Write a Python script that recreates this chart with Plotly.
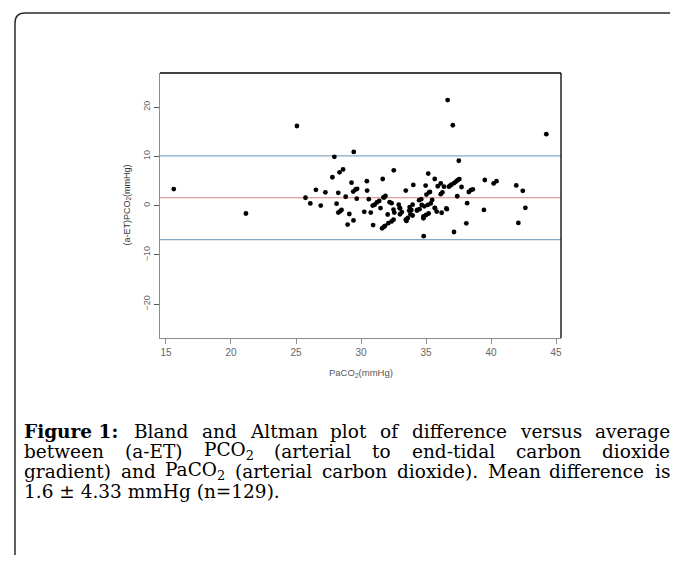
import re
import plotly.graph_objects as go

# ---------------- data ----------------
paco2 = [15.6, 21.15, 25.07, 25.73, 26.1, 26.53, 26.9, 27.26, 27.8, 27.95,
         28.12, 28.25, 28.35, 28.62, 28.25, 28.39, 28.5, 28.82, 28.97, 29.1,
         29.27, 29.44, 29.42, 29.4, 29.58, 29.67, 29.7, 30.25, 30.45, 30.47,
         30.6, 30.75, 30.9, 31.05, 30.93, 31.22, 31.5, 31.67, 31.72, 31.62,
         31.76, 31.88, 32.05, 32.2, 32.35, 32.35, 32.5, 32.52, 32.5, 32.9,
         32.97, 33.0, 33.14, 33.44, 33.44, 33.6, 33.8, 33.74, 33.87, 33.97,
         34.02, 33.97, 34.33, 34.47, 34.5, 34.63, 34.82, 34.8, 34.87, 34.97,
         35.03, 35.0, 35.13, 35.17, 35.2, 35.23, 35.36, 35.47, 35.67, 35.67,
         35.9, 36.13, 36.13, 36.26, 36.2, 36.56, 36.66, 36.76, 36.86, 37.06,
         37.15, 37.16, 37.3, 37.43, 37.52, 37.4, 37.56, 37.73, 38.1, 38.16,
         38.29, 38.45, 39.45, 39.52, 40.2, 40.42, 41.94, 42.1, 42.44, 42.64,
         44.25, 31.8, 33.0, 32.56, 34.67, 34.8, 33.5, 32.1, 31.85, 35.69,
         35.82, 36.6, 36.95, 35.3, 36.38, 34.3, 33.7, 31.4, 38.6]

diff_aet = [3.35, -1.6, 16.15, 1.6, 0.44, 3.2, 0.0, 2.7, 5.75, 9.9,
            0.4, 2.6, 6.76, 7.35, -1.4, -1.15, -0.87, 1.8, -3.85, -1.7,
            4.65, 10.9, -3.0, 2.85, 3.27, 1.4, 3.4, -1.25, 4.95, 3.05,
            1.3, -1.4, 0.0, 0.2, -3.95, 0.65, -0.5, 5.4, 1.67, -4.6,
            -4.3, 1.96, -1.8, 0.7, 0.5, -3.2, -2.84, 7.15, -0.8, 0.2,
            -0.5, -1.75, -1.3, 3.05, -2.84, -2.5, -1.75, -0.3, -0.87, 0.2,
            4.2, -2.0, -0.87, 1.1, -0.73, 1.3, -6.2, -2.2, -0.15, 4.07,
            2.25, -1.9, 0.15, 6.5, -1.6, 2.7, 0.44, 1.16, 5.4, -0.44,
            3.93, 4.5, 2.33, 2.7, -1.45, -0.58, 21.4, 3.85, 4.07, 16.3,
            -5.35, 4.58, 4.87, 5.16, 9.1, 1.9, 5.38, 3.78, -3.6, 0.5,
            2.76, 3.13, -0.87, 5.2, 4.5, 4.95, 4.1, -3.5, 3.0, -0.45,
            14.5, 1.7, -0.53, -1.42, 0.14, -2.56, -3.1, -3.57, -4.1, -0.53,
            -1.2, -0.73, 4.25, 2.78, 3.85, -1.0, -1.0, 0.95, 3.3]

assert len(paco2) == len(diff_aet) == 129

mean_diff = 1.6
sd_diff = 4.33
upper_loa = mean_diff + 1.96 * sd_diff
lower_loa = mean_diff - 1.96 * sd_diff

x_ticks = [15, 20, 25, 30, 35, 40, 45]
y_ticks = [-20, -10, 0, 10, 20]

x_title = "PaCO<sub>2</sub>(mmHg)"
y_title = "(a-ET)PCO<sub>2</sub>(mmHg)"

caption_lines = [
    ["<b>Figure 1:</b>", "Bland", "and", "Altman", "plot", "of", "difference", "versus", "average"],
    ["between", "(a-ET)", "PCO<sub>2</sub>", "(arterial", "to", "end-tidal", "carbon", "dioxide"],
    ["gradient)", "and", "PaCO<sub>2</sub>", "(arterial", "carbon", "dioxide).", "Mean", "difference", "is"],
    ["1.6 ± 4.33 mmHg (n=129)."],
]
caption_justified = [True, True, True, False]

# ---------------- layout geometry (page pixels) ----------------
W, H = 678, 563
OFF = 8  # default body margin of the html page
PL, PR, PT, PB = 160, 561, 73, 338
FIG_W, FIG_H = W - 2 * OFF, H - 2 * OFF

def fx(px):
    return (px - PL) / (PR - PL)

def fy(py):
    return (PB - py) / (PB - PT)

# approximate advance widths of DejaVu Serif (em units), used to justify the caption
_CW = dict(a=.596, b=.640, c=.560, d=.640, e=.592, f=.370, g=.640, h=.644, i=.320,
           k=.606, l=.320, m=.948, n=.644, o=.602, p=.640, r=.478, s=.513, t=.402,
           u=.644, v=.565, w=.856, x=.564, y=.565, A=.722, B=.735, C=.720, E=.730,
           F=.694, M=.995, O=.820, P=.675, T=.682)
_CW.update({"(": .390, ")": .390, "-": .338, ".": .318, ":": .337, " ": .318})

def word_width(word, size):
    bold = "<b>" in word
    subs = "".join(re.findall(r"<sub>(.*?)</sub>", word))
    plain = re.sub(r"<[^>]+>", "", re.sub(r"<sub>(.*?)</sub>", "", word))
    total = sum(_CW.get(ch, .636) for ch in plain)
    total += sum(0.7 * _CW.get(ch, .636) for ch in subs)
    if bold:
        total *= 1.12
    return total * size

CAP_LEFT, CAP_RIGHT = 22, 668
caption_baselines = [437, 457, 477, 497]
CAP_SIZE = 18.5

fig = go.Figure()
fig.add_trace(go.Scatter(
    x=paco2, y=diff_aet, mode="markers",
    marker=dict(color="black", size=4.8, line=dict(width=0)),
    hoverinfo="skip", showlegend=False,
))

shapes = []
shapes.append(dict(type="line", xref="paper", x0=0, x1=1, yref="y",
                   y0=upper_loa, y1=upper_loa, line=dict(color="#86a8c4", width=1.2), layer="below"))
shapes.append(dict(type="line", xref="paper", x0=0, x1=1, yref="y",
                   y0=lower_loa, y1=lower_loa, line=dict(color="#86a8c4", width=1.2), layer="below"))
shapes.append(dict(type="line", xref="paper", x0=0, x1=1, yref="y",
                   y0=mean_diff, y1=mean_diff, line=dict(color="#d98282", width=1.2), layer="below"))
shapes.append(dict(type="line", xref="paper", yref="paper", x0=0, x1=1, y0=1, y1=1,
                   line=dict(color="black", width=1.3)))
shapes.append(dict(type="line", xref="paper", yref="paper", x0=1, x1=1, y0=0, y1=1,
                   line=dict(color="black", width=1.3)))
fl, ft, rad = 15, 13, 10
path = (f"M {fx(fl)},{fy(H + 20)} L {fx(fl)},{fy(ft + rad)} "
        f"Q {fx(fl)},{fy(ft)} {fx(fl + rad)},{fy(ft)} L {fx(W + 20)},{fy(ft)}")
shapes.append(dict(type="path", xref="paper", yref="paper", path=path,
                   line=dict(color="#2a2a2a", width=1.5)))

annotations = []
annotations.append(dict(text=x_title, xref="paper", yref="paper", x=0.5, y=fy(373),
                        xanchor="center", yanchor="middle", showarrow=False,
                        font=dict(family="Liberation Sans, Arial", size=9.5, color="#555555")))
annotations.append(dict(text=y_title, xref="paper", yref="paper", x=fx(127), y=fy(205.5),
                        xanchor="center", yanchor="middle", showarrow=False, textangle=-90,
                        font=dict(family="Liberation Sans, Arial", size=9, color="#333333")))

for words, just, base in zip(caption_lines, caption_justified, caption_baselines):
    widths = [word_width(w, CAP_SIZE) for w in words]
    if just and len(words) > 1:
        gap = (CAP_RIGHT - CAP_LEFT - sum(widths)) / (len(words) - 1)
    else:
        gap = 0
    cur = CAP_LEFT
    for w, wd in zip(words, widths):
        annotations.append(dict(text=w, xref="paper", yref="paper", x=fx(cur), y=fy(base - 6),
                                xanchor="left", yanchor="middle", showarrow=False,
                                font=dict(family="DejaVu Serif", size=CAP_SIZE, color="black")))
        cur += wd + gap

axis_font = dict(family="Liberation Sans, Arial", size=10, color="#666666")
left_m = PL - OFF
top_m = PT - OFF
fig.update_layout(
    width=FIG_W, height=FIG_H,
    margin=dict(l=left_m, r=FIG_W - left_m - (PR - PL), t=top_m,
                b=FIG_H - top_m - (PB - PT), pad=0),
    paper_bgcolor="white", plot_bgcolor="white",
    showlegend=False, hovermode=False,
    shapes=shapes, annotations=annotations,
    xaxis=dict(range=[14.54, 45.38], tickvals=x_ticks, ticks="outside", ticklen=5,
               tickcolor="#8c8c8c", tickwidth=1, showline=True, linecolor="#8c8c8c",
               linewidth=1.2, showgrid=False, zeroline=False, tickfont=axis_font,
               automargin=False),
    yaxis=dict(range=[-26.85, 26.9], tickvals=y_ticks, ticks="outside", ticklen=5,
               tickcolor="#555555", tickwidth=1, showline=True, linecolor="#8c8c8c",
               linewidth=1.2, showgrid=False, zeroline=False, tickangle=-90,
               tickfont=dict(family="Liberation Sans, Arial", size=9, color="#666666"),
               automargin=False),
)

fig.write_html("out.html")
